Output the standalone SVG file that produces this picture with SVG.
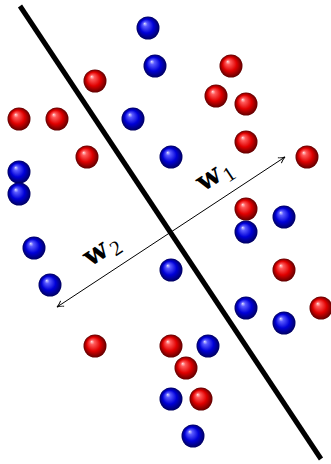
<svg xmlns="http://www.w3.org/2000/svg" width="331" height="464" viewBox="0 0 331 464">
<defs>
<radialGradient id="gr" cx="0.5" cy="0.5" r="0.5" fx="0.35" fy="0.3">
<stop offset="0" stop-color="#ffdede"/>
<stop offset="0.2" stop-color="#ff5a5a"/>
<stop offset="0.6" stop-color="#e00000"/>
<stop offset="1" stop-color="#600000"/>
</radialGradient>
<radialGradient id="gb" cx="0.5" cy="0.5" r="0.5" fx="0.35" fy="0.3">
<stop offset="0" stop-color="#dedeff"/>
<stop offset="0.2" stop-color="#5a5aff"/>
<stop offset="0.6" stop-color="#0000d8"/>
<stop offset="1" stop-color="#000060"/>
</radialGradient>
<marker id="ah" viewBox="0 0 10 10" refX="9" refY="5" markerWidth="8" markerHeight="8" markerUnits="userSpaceOnUse" orient="auto">
<path d="M1,1 Q5,4 9,5 Q5,6 1,9" fill="none" stroke="#000" stroke-width="1.2"/>
</marker>
</defs>
<style>
.r{fill:url(#gr)}
.b{fill:url(#gb)}
.lbl{font-family:"DejaVu Serif","Liberation Serif",serif;font-weight:bold;fill:#000;font-size:28px;text-anchor:middle}
.sub{font-family:"Liberation Serif","DejaVu Serif",serif;fill:#000;font-size:21px;text-anchor:middle}
</style>
<g id="separator">
<line x1="20" y1="6" x2="321" y2="459" stroke="#000" stroke-width="5"/>
</g>
<g id="connectors">
<line x1="171" y1="232" x2="285" y2="157" stroke="#000" stroke-width="1" marker-end="url(#ah)"/>
<line x1="171" y1="232" x2="57" y2="307" stroke="#000" stroke-width="1" marker-end="url(#ah)"/>
</g>
<g id="label-w1">
<text class="lbl" transform="translate(209,179) rotate(-33.3)" y="8">w</text>
<text class="sub" transform="translate(229,174) rotate(-33.3)" y="7">1</text>
</g>
<g id="label-w2">
<text class="lbl" transform="translate(96,254) rotate(-33.3)" y="8">w</text>
<text class="sub" transform="translate(116,248) rotate(-33.3)" y="7">2</text>
</g>
<g id="red-points">
<circle class="r" cx="95" cy="81" r="11.5"/>
<circle class="r" cx="19" cy="119" r="11.5"/>
<circle class="r" cx="57" cy="119" r="11.5"/>
<circle class="r" cx="87" cy="157" r="11.5"/>
<circle class="r" cx="231" cy="66" r="11.5"/>
<circle class="r" cx="216" cy="96" r="11.5"/>
<circle class="r" cx="246" cy="104" r="11.5"/>
<circle class="r" cx="246" cy="142" r="11.5"/>
<circle class="r" cx="307" cy="157" r="11.5"/>
<circle class="r" cx="246" cy="209" r="11.5"/>
<circle class="r" cx="284" cy="270" r="11.5"/>
<circle class="r" cx="321" cy="308" r="11.5"/>
<circle class="r" cx="95" cy="346" r="11.5"/>
<circle class="r" cx="171" cy="346" r="11.5"/>
<circle class="r" cx="186" cy="368" r="11.5"/>
<circle class="r" cx="201" cy="399" r="11.5"/>
</g>
<g id="blue-points">
<circle class="b" cx="148" cy="28" r="11.5"/>
<circle class="b" cx="155" cy="66" r="11.5"/>
<circle class="b" cx="133" cy="119" r="11.5"/>
<circle class="b" cx="171" cy="157" r="11.5"/>
<circle class="b" cx="19" cy="172" r="11.5"/>
<circle class="b" cx="19" cy="194" r="11.5"/>
<circle class="b" cx="284" cy="217" r="11.5"/>
<circle class="b" cx="246" cy="232" r="11.5"/>
<circle class="b" cx="34" cy="248" r="11.5"/>
<circle class="b" cx="171" cy="270" r="11.5"/>
<circle class="b" cx="50" cy="285" r="11.5"/>
<circle class="b" cx="246" cy="308" r="11.5"/>
<circle class="b" cx="284" cy="323" r="11.5"/>
<circle class="b" cx="208" cy="346" r="11.5"/>
<circle class="b" cx="171" cy="399" r="11.5"/>
<circle class="b" cx="193" cy="436" r="11.5"/>
</g>
</svg>
